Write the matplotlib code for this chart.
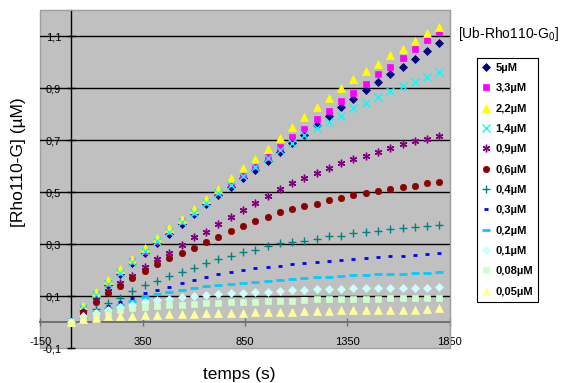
import matplotlib
matplotlib.use("Agg")
import matplotlib.pyplot as plt
from matplotlib.patches import Rectangle

plt.rcParams['font.family'] = ['Liberation Sans', 'DejaVu Sans']
plt.rcParams['mathtext.fontset'] = 'custom'
plt.rcParams['mathtext.rm'] = 'Liberation Sans'

# ---- data ----
t = [0, 60, 120, 180, 240, 300, 360, 420, 480, 540, 600, 660, 720, 780, 840,
     900, 960, 1020, 1080, 1140, 1200, 1260, 1320, 1380, 1440, 1500, 1560,
     1620, 1680, 1740, 1800]

labels = ["5µM", "3,3µM", "2,2µM", "1,4µM", "0,9µM", "0,6µM", "0,4µM",
          "0,3µM", "0,2µM", "0,1µM", "0,08µM", "0,05µM"]

s_5 = [0, 0.045, 0.1, 0.143, 0.186, 0.227, 0.266, 0.303, 0.34, 0.378, 0.414,
       0.452, 0.488, 0.52, 0.552, 0.585, 0.62, 0.655, 0.687, 0.72, 0.758,
       0.792, 0.826, 0.858, 0.892, 0.924, 0.953, 0.982, 1.013, 1.042, 1.074]
s_3_3 = [0, 0.053, 0.106, 0.15, 0.193, 0.234, 0.274, 0.311, 0.35, 0.388, 0.424,
         0.462, 0.5, 0.533, 0.565, 0.6, 0.633, 0.674, 0.71, 0.744, 0.779,
         0.813, 0.851, 0.882, 0.914, 0.953, 0.982, 1.017, 1.049, 1.085, 1.114]
s_2_2 = [0, 0.06, 0.115, 0.16, 0.203, 0.244, 0.284, 0.322, 0.36, 0.398, 0.434,
         0.472, 0.51, 0.555, 0.591, 0.626, 0.667, 0.708, 0.749, 0.79, 0.826,
         0.862, 0.899, 0.933, 0.965, 0.992, 1.026, 1.049, 1.082, 1.11, 1.136]
s_1_4 = [0, 0.052, 0.105, 0.148, 0.19, 0.232, 0.272, 0.31, 0.347, 0.386, 0.42,
         0.458, 0.495, 0.528, 0.56, 0.597, 0.629, 0.66, 0.687, 0.72, 0.745,
         0.771, 0.792, 0.822, 0.844, 0.867, 0.888, 0.908, 0.924, 0.944, 0.96]
s_0_9 = [0, 0.04, 0.085, 0.12, 0.149, 0.177, 0.213, 0.241, 0.267, 0.296, 0.326,
         0.347, 0.376, 0.403, 0.43, 0.458, 0.485, 0.51, 0.533, 0.553, 0.574,
         0.594, 0.613, 0.627, 0.638, 0.655, 0.668, 0.685, 0.697, 0.703, 0.717]
s_0_6 = [0, 0.04, 0.076, 0.11, 0.137, 0.168, 0.197, 0.222, 0.245, 0.264, 0.283,
         0.307, 0.328, 0.349, 0.369, 0.388, 0.405, 0.422, 0.433, 0.447, 0.455,
         0.468, 0.477, 0.487, 0.495, 0.504, 0.511, 0.52, 0.524, 0.533, 0.54]
s_0_4 = [0, 0.025, 0.05, 0.073, 0.093, 0.119, 0.141, 0.157, 0.178, 0.194, 0.209,
         0.226, 0.241, 0.254, 0.268, 0.277, 0.292, 0.302, 0.306, 0.311, 0.318,
         0.329, 0.332, 0.341, 0.345, 0.349, 0.356, 0.36, 0.365, 0.368, 0.373]
s_0_3 = [0, 0.02, 0.04, 0.06, 0.077, 0.092, 0.11, 0.123, 0.136, 0.15, 0.162,
         0.174, 0.184, 0.193, 0.2, 0.207, 0.212, 0.216, 0.222, 0.227, 0.232,
         0.236, 0.239, 0.244, 0.248, 0.25, 0.252, 0.255, 0.259, 0.262, 0.266]
s_0_2 = [0, 0.02, 0.037, 0.053, 0.066, 0.08, 0.095, 0.107, 0.116, 0.124, 0.132,
         0.137, 0.142, 0.147, 0.151, 0.155, 0.158, 0.162, 0.165, 0.17, 0.173,
         0.175, 0.177, 0.179, 0.181, 0.183, 0.184, 0.186, 0.188, 0.19, 0.193]
s_0_1 = [0, 0.023, 0.033, 0.046, 0.056, 0.065, 0.078, 0.085, 0.09, 0.096, 0.1,
         0.104, 0.107, 0.11, 0.112, 0.114, 0.116, 0.118, 0.122, 0.123, 0.126,
         0.127, 0.127, 0.13, 0.13, 0.13, 0.131, 0.132, 0.132, 0.132, 0.133]
s_0_08 = [0, 0.014, 0.027, 0.034, 0.045, 0.052, 0.058, 0.062, 0.065, 0.067, 0.07,
          0.072, 0.074, 0.076, 0.077, 0.078, 0.079, 0.079, 0.082, 0.086, 0.087,
          0.087, 0.087, 0.09, 0.09, 0.09, 0.091, 0.091, 0.091, 0.094, 0.094]
s_0_05 = [0, 0.01, 0.017, 0.022, 0.024, 0.025, 0.027, 0.028, 0.029, 0.03, 0.031,
          0.033, 0.034, 0.035, 0.036, 0.037, 0.038, 0.04, 0.04, 0.041, 0.042,
          0.043, 0.045, 0.046, 0.047, 0.047, 0.047, 0.048, 0.048, 0.049, 0.052]

series = [s_5, s_3_3, s_2_2, s_1_4, s_0_9, s_0_6, s_0_4, s_0_3, s_0_2, s_0_1,
          s_0_08, s_0_05]

x_ticks = [-150, 350, 850, 1350, 1850]
y_ticks = [-0.1, 0.1, 0.3, 0.5, 0.7, 0.9, 1.1]
y_ticklabels = ["-0,1", "0,1", "0,3", "0,5", "0,7", "0,9", "1,1"]

# ---- styles ----
styles = [
    dict(marker='D', ms=3.6, mfc='#000080', mec='#000080', mew=0.5),
    dict(marker='s', ms=4.6, mfc='#ff00ff', mec='#ff00ff', mew=0.5),
    dict(marker='^', ms=5.5, mfc='#ffff00', mec='#ffff00', mew=0.5),
    dict(marker='x', ms=5.3, mfc='none', mec='#00ffff', mew=1.0),
    dict(marker=(6, 2, 0), ms=5.5, mfc='none', mec='#800080', mew=1.0),
    dict(marker='o', ms=4.6, mfc='#8b0000', mec='#8b0000', mew=0.5),
    dict(marker='+', ms=5.5, mfc='none', mec='#008080', mew=1.0),
    dict(marker='_', ms=3.5, mfc='none', mec='#0000ff', mew=2.0),
    dict(marker='_', ms=6.0, mfc='none', mec='#00ccff', mew=2.0),
    dict(marker='D', ms=3.6, mfc='#ccffff', mec='#ccffff', mew=0.5),
    dict(marker='s', ms=4.6, mfc='#ccffcc', mec='#ccffcc', mew=0.5),
    dict(marker='^', ms=5.5, mfc='#ffff99', mec='#ffff99', mew=0.5),
]

W, H = 563, 383
fig = plt.figure(figsize=(W / 100, H / 100), dpi=100)
ax = fig.add_axes([40.3 / W, 1 - 348 / H, 409.4 / W, 338 / H])
ax.set_facecolor('#c0c0c0')
ax.set_xlim(-150, 1850)
ax.set_ylim(-0.1, 1.2)

for yv in y_ticks[1:]:
    ax.axhline(yv, color='black', lw=1.0, zorder=1)

handles = []
for ys, st, lab in zip(series, styles, labels):
    h, = ax.plot(t, ys, linestyle='none', label=lab, zorder=3, **st)
    handles.append(h)

# spines
ax.spines['left'].set_position(('data', 0))
ax.spines['bottom'].set_position(('data', 0))
ax.spines['left'].set_color('black')
ax.spines['left'].set_linewidth(1.0)
ax.spines['bottom'].set_color('#707070')
ax.spines['bottom'].set_linewidth(1.4)
ax.spines['top'].set_color('#a0a0a0')
ax.spines['right'].set_color('#a0a0a0')
ax.spines['left'].set_zorder(2)
ax.spines['bottom'].set_zorder(2)
ax.add_patch(Rectangle((0, 0), 1, 1, transform=ax.transAxes, fill=False,
                       edgecolor='#a0a0a0', lw=1.0, zorder=0.5, clip_on=False))

ax.set_xticks(x_ticks)
ax.set_xticklabels([str(v) for v in x_ticks])
ax.set_yticks(y_ticks)
ax.set_yticklabels(y_ticklabels)
ax.tick_params(axis='x', direction='inout', length=6, width=1, color='#707070',
               labelsize=8, pad=7.5)
ax.tick_params(axis='y', direction='inout', length=6, width=1, color='black',
               labelsize=8, pad=4)

fig.text(239 / W, 1 - 375 / H, "temps (s)", ha='center', va='center', fontsize=12.5)
fig.text(18.5 / W, 1 - 162 / H, "[Rho110-G] (µM)", ha='center', va='center',
         rotation=90, fontsize=12.5)
fig.text(458 / W, 1 - 34 / H, r"[Ub-Rho110-G$_\mathregular{0}$]", ha='left',
         va='center', fontsize=10)

leg = fig.legend(handles=handles, loc='upper left',
                 bbox_to_anchor=(477 / W, 1 - 58 / H),
                 prop={'weight': 'bold', 'size': 8}, frameon=True,
                 fancybox=False, edgecolor='black', framealpha=1,
                 labelspacing=0.93, handlelength=0.7, handletextpad=0.5,
                 borderpad=0.45, borderaxespad=0, numpoints=1)
leg.get_frame().set_linewidth(0.8)

fig.savefig("out.png", dpi=100)
